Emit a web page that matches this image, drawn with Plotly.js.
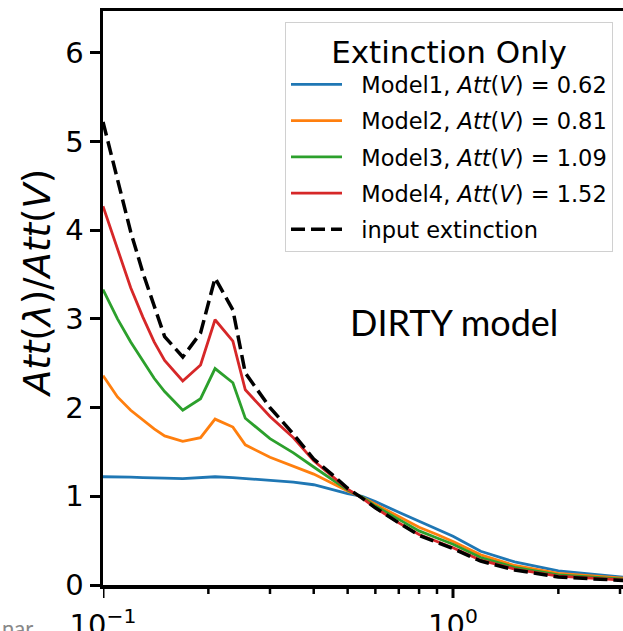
<!DOCTYPE html>
<html>
<head>
<meta charset="utf-8">
<script src="https://cdn.plot.ly/plotly-3.0.1.min.js"></script>
<style>html,body{margin:0;padding:0;background:#fff;overflow:hidden}</style>
</head>
<body>
<div id="chart" style="width:623px;height:631px"></div>
<script>
// wavelength in micron
const wavelength = [0.1, 0.11, 0.12, 0.13, 0.14, 0.15, 0.169, 0.19, 0.209, 0.235, 0.255, 0.3, 0.35, 0.4, 0.45, 0.5, 0.55, 0.6, 0.7, 0.8, 0.9, 1.0, 1.2, 1.5, 2.0, 2.5, 3.0, 3.1];
const model1 = [1.22, 1.22, 1.215, 1.21, 1.21, 1.205, 1.20, 1.21, 1.22, 1.21, 1.20, 1.18, 1.16, 1.13, 1.08, 1.03, 1.00, 0.94, 0.82, 0.72, 0.63, 0.55, 0.38, 0.26, 0.16, 0.12, 0.09, 0.085];
const model2 = [2.36, 2.12, 1.97, 1.86, 1.76, 1.68, 1.62, 1.66, 1.87, 1.78, 1.58, 1.44, 1.34, 1.25, 1.15, 1.06, 0.99, 0.91, 0.77, 0.65, 0.57, 0.49, 0.34, 0.22, 0.13, 0.10, 0.08, 0.075];
const model3 = [3.33, 3.00, 2.74, 2.52, 2.33, 2.18, 1.97, 2.10, 2.44, 2.28, 1.88, 1.65, 1.49, 1.33, 1.19, 1.07, 0.99, 0.89, 0.74, 0.61, 0.53, 0.46, 0.31, 0.20, 0.115, 0.09, 0.07, 0.065];
const model4 = [4.27, 3.78, 3.35, 3.02, 2.74, 2.53, 2.30, 2.48, 2.99, 2.75, 2.20, 1.90, 1.66, 1.40, 1.23, 1.08, 0.98, 0.87, 0.70, 0.57, 0.49, 0.42, 0.28, 0.18, 0.10, 0.08, 0.06, 0.055];
const inputExt = [5.22, 4.55, 3.98, 3.52, 3.15, 2.80, 2.57, 2.84, 3.46, 3.10, 2.39, 2.00, 1.70, 1.42, 1.25, 1.09, 0.98, 0.87, 0.70, 0.56, 0.48, 0.41, 0.27, 0.17, 0.09, 0.07, 0.06, 0.05];

const seriesNames = [
  'Model1, <i>Att</i>(<i>V</i>) = 0.62',
  'Model2, <i>Att</i>(<i>V</i>) = 0.81',
  'Model3, <i>Att</i>(<i>V</i>) = 1.09',
  'Model4, <i>Att</i>(<i>V</i>) = 1.52',
  'input extinction'
];
const seriesColors = ['#1f77b4', '#ff7f0e', '#2ca02c', '#d62728', '#000000'];
const xTickVals = [0.1, 1];
const xTickText = ['10<sup>−1</sup>', '10<sup>0</sup>'];
const xMinorVals = [0.2, 0.3, 0.4, 0.5, 0.6, 0.7, 0.8, 0.9, 2, 3];
const yTickVals = [0, 1, 2, 3, 4, 5, 6];

const ys = [model1, model2, model3, model4, inputExt];
const traces = ys.map((y, i) => ({
  x: wavelength, y: y, type: 'scatter', mode: 'lines',
  name: '\u00a0\u00a0' + seriesNames[i], legendgroup: 'g' + i,
  line: {color: seriesColors[i], width: i === 4 ? 3.5 : 2.8, dash: i === 4 ? '14px,6px' : 'solid'}
}));

const font = 'DejaVu Sans, sans-serif';
const xRange = [-1, 0.4857];
const plotH = 574;
// x-axis tick marks placed on the log x scale (major longer than minor)
const tickShapes = xTickVals.map(v => ({type: 'line', xref: 'x', yref: 'paper', x0: v, x1: v,
    y0: -2 / plotH, y1: -13 / plotH, layer: 'above', line: {color: '#000', width: 3}}))
  .concat(xMinorVals.map(v => ({type: 'line', xref: 'x', yref: 'paper', x0: v, x1: v,
    y0: -2 / plotH, y1: -9 / plotH, layer: 'above', line: {color: '#000', width: 2.5}})));

const layout = {
  width: 623, height: 631,
  margin: {l: 103, r: 0, t: 11, b: 46},
  paper_bgcolor: '#fff', plot_bgcolor: '#fff',
  showlegend: true,
  legend: {
    x: 0.35, y: 0.981, xanchor: 'left', yanchor: 'top',
    bgcolor: 'rgba(255,255,255,0.9)', bordercolor: '#d0d0d0', borderwidth: 1,
    font: {family: font, size: 22.5, color: '#000'},
    title: {text: 'Extinction Only', side: 'top center', font: {family: font, size: 31, color: '#000'}},
    tracegroupgap: 4, itemwidth: 51
  },
  xaxis: {
    type: 'log', range: xRange,
    showgrid: false, zeroline: false,
    showline: true, linecolor: '#000', linewidth: 3.5, mirror: true,
    tickmode: 'array', tickvals: xTickVals, ticktext: xTickText,
    ticks: 'outside', ticklen: 12, tickwidth: 3, tickcolor: 'rgba(0,0,0,0)',
    tickfont: {family: font, size: 29, color: '#000'}
  },
  yaxis: {
    range: [0, 6.47],
    showgrid: false, zeroline: false,
    showline: true, linecolor: '#000', linewidth: 3.5,
    tickmode: 'array', tickvals: yTickVals,
    ticks: 'outside', ticklen: 10, tickwidth: 3, tickcolor: '#000',
    tickfont: {family: font, size: 29, color: '#000'}
  },
  shapes: tickShapes,
  annotations: [
    {text: '<i>Att</i>(<i>λ</i>)/<i>Att</i>(<i>V</i>)', xref: 'paper', yref: 'paper',
     x: (37 - 103) / 520, y: (585 - 283) / 574, xanchor: 'center', yanchor: 'middle',
     textangle: -90, showarrow: false, font: {family: font, size: 37, color: '#000'}},
    {text: 'DIRTY model', xref: 'paper', yref: 'paper', x: (454 - 103) / 520, y: (585 - 322) / 574,
     xanchor: 'center', yanchor: 'middle', showarrow: false,
     font: {family: 'Lato, Open Sans, sans-serif', size: 36, color: '#000'}},
    {text: 'nar', xref: 'paper', yref: 'paper', x: -103 / 520, y: -(612 - 585) / 574,
     xanchor: 'left', yanchor: 'top', showarrow: false,
     font: {family: 'Lato, Open Sans, sans-serif', size: 22, color: '#888'}}
  ]
};

Plotly.newPlot('chart', traces, layout, {displayModeBar: false, staticPlot: true});
</script>
</body>
</html>
